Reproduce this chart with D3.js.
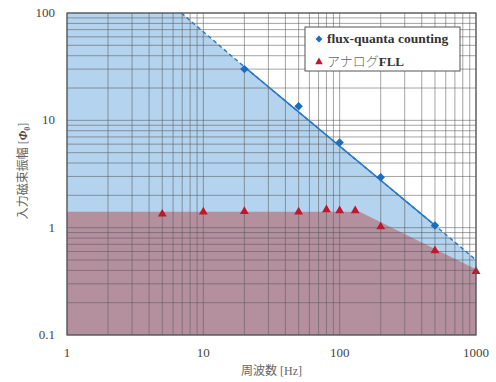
<!DOCTYPE html>
<html>
<head>
<meta charset="utf-8">
<script src="https://cdn.jsdelivr.net/npm/d3@7"></script>
<style>
  body { margin: 0; background: #fff; }
  text { font-family: "Liberation Serif", "DejaVu Serif", "Noto Sans CJK JP", serif; }
</style>
</head>
<body>
<div id="chart"></div>
<script>
// data
var fqcFreq = [20, 50, 100, 200, 500];
var fqcAmp = [30, 13.5, 6.2, 2.95, 1.05];

var fllFreq = [5, 10, 20, 50, 80, 100, 130, 200, 500, 1000];
var fllAmp = [1.34, 1.4, 1.42, 1.4, 1.47, 1.44, 1.44, 1.02, 0.61, 0.39];

// limit line for flux-quanta counting (dashed outside 20-500 Hz)
var limitFreq = [6.9, 20, 500, 1000];
var limitAmp = [100, 31.5, 1.05, 0.5];

// analog FLL region edge
var fllEdgeFreq = [1, 140, 1000];
var fllEdgeAmp = [1.41, 1.41, 0.41];

var xTicks = [1, 10, 100, 1000];
var yTicks = [0.1, 1, 10, 100];

var svgWidth = 496;
var svgHeight = 382;
var margin = { top: 13, right: 20, bottom: 47, left: 67 };
var width = svgWidth - margin.left - margin.right;
var height = svgHeight - margin.top - margin.bottom;

var svg = d3.select("#chart")
  .append("svg")
  .attr("width", svgWidth)
  .attr("height", svgHeight);

var chartGroup = svg.append("g")
  .attr("transform", `translate(${margin.left}, ${margin.top})`);

var x = d3.scaleLog().domain([1, 1000]).range([0, width]);
var y = d3.scaleLog().domain([0.1, 100]).range([height, 0]);

var line = d3.line().x(d => x(d[0])).y(d => y(d[1]));

// blue region
var blueArea = [[1, 100]];
limitFreq.forEach((f, i) => blueArea.push([f, limitAmp[i]]));
blueArea.push([1000, 0.1], [1, 0.1]);
chartGroup.append("path")
  .attr("d", line(blueArea) + "Z")
  .attr("fill", "#b3d3ee");

// red region
var redArea = fllEdgeFreq.map((f, i) => [f, fllEdgeAmp[i]]);
redArea.push([1000, 0.1], [1, 0.1]);
chartGroup.append("path")
  .attr("d", line(redArea) + "Z")
  .attr("fill", "#b4909f");

// grid
var minor = [];
for (var e = 0; e < 3; e++) {
  for (var k = 1; k < 10; k++) minor.push(k * Math.pow(10, e));
}
minor.push(1000);
var minorY = minor.map(v => v / 10);

chartGroup.append("g").selectAll("line")
  .data(minor)
  .enter()
  .append("line")
  .attr("x1", d => x(d)).attr("x2", d => x(d))
  .attr("y1", 0).attr("y2", height)
  .attr("stroke", "rgba(90,90,90,0.55)")
  .attr("stroke-width", 1);

chartGroup.append("g").selectAll("line")
  .data(minorY)
  .enter()
  .append("line")
  .attr("x1", 0).attr("x2", width)
  .attr("y1", d => y(d)).attr("y2", d => y(d))
  .attr("stroke", "rgba(90,90,90,0.55)")
  .attr("stroke-width", 1);

// limit line
var limitPts = limitFreq.map((f, i) => [f, limitAmp[i]]);
chartGroup.append("path")
  .attr("d", line(limitPts))
  .attr("fill", "none")
  .attr("stroke", "#2a78c4")
  .attr("stroke-width", 1.4)
  .attr("stroke-dasharray", "4,3");
chartGroup.append("path")
  .attr("d", line(limitPts.slice(1, 3)))
  .attr("fill", "none")
  .attr("stroke", "#2a78c4")
  .attr("stroke-width", 1.4);

// markers
chartGroup.append("g").selectAll("path")
  .data(fqcFreq)
  .enter()
  .append("path")
  .attr("d", d3.symbol().type(d3.symbolDiamond2).size(46))
  .attr("transform", (d, i) => `translate(${x(d)},${y(fqcAmp[i])})`)
  .attr("fill", "#1c6dc1");

chartGroup.append("g").selectAll("path")
  .data(fllFreq)
  .enter()
  .append("path")
  .attr("d", d3.symbol().type(d3.symbolTriangle).size(34))
  .attr("transform", (d, i) => `translate(${x(d)},${y(fllAmp[i])})`)
  .attr("fill", "#c0172c");

// border
chartGroup.append("rect")
  .attr("width", width).attr("height", height)
  .attr("fill", "none")
  .attr("stroke", "#555")
  .attr("stroke-width", 1.2);

// tick labels
chartGroup.append("g").selectAll("text")
  .data(xTicks)
  .enter()
  .append("text")
  .attr("x", d => x(d))
  .attr("y", height + 22)
  .attr("text-anchor", "middle")
  .attr("font-size", 13)
  .attr("fill", "#444")
  .text(d => d);

chartGroup.append("g").selectAll("text")
  .data(yTicks)
  .enter()
  .append("text")
  .attr("x", -12)
  .attr("y", d => y(d) + 4)
  .attr("text-anchor", "end")
  .attr("font-size", 13)
  .attr("fill", "#444")
  .text(d => d);

// axis titles
chartGroup.append("text")
  .attr("x", width / 2)
  .attr("y", height + 40)
  .attr("text-anchor", "middle")
  .attr("font-size", 12)
  .attr("fill", "#666")
  .text("周波数 [Hz]");

var yTitle = chartGroup.append("text")
  .attr("transform", "rotate(-90)")
  .attr("x", -(y(1) + y(10)) / 2 + 3)
  .attr("y", -40)
  .attr("text-anchor", "middle")
  .attr("font-size", 12)
  .attr("fill", "#666");
yTitle.append("tspan").text("入力磁束振幅 [");
yTitle.append("tspan").attr("font-weight", "bold").attr("font-style", "italic").attr("fill", "#444").text("Φ");
yTitle.append("tspan").attr("font-size", 8).attr("dy", 3).attr("font-weight", "bold").text("0");
yTitle.append("tspan").attr("dy", -3).text("]");

// legend
var legend = chartGroup.append("g")
  .attr("transform", `translate(${305 - margin.left}, ${27 - margin.top})`);
legend.append("rect")
  .attr("width", 155).attr("height", 44)
  .attr("fill", "#fff")
  .attr("stroke", "#555")
  .attr("stroke-width", 1);
legend.append("path")
  .attr("d", d3.symbol().type(d3.symbolDiamond2).size(30))
  .attr("transform", "translate(14,12)")
  .attr("fill", "#1c6dc1");
legend.append("path")
  .attr("d", d3.symbol().type(d3.symbolTriangle).size(25))
  .attr("transform", "translate(14,35)")
  .attr("fill", "#c0172c");
legend.append("text")
  .attr("x", 22).attr("y", 16)
  .attr("font-size", 13.5)
  .attr("font-weight", "bold")
  .attr("fill", "#333")
  .text("flux-quanta counting");
var fllLabel = legend.append("text")
  .attr("x", 22).attr("y", 39)
  .attr("font-size", 13)
  .attr("fill", "#333");
fllLabel.append("tspan").attr("font-family", "Noto Sans CJK JP").attr("font-weight", 300).attr("fill", "#666").text("アナログ");
fllLabel.append("tspan").attr("font-weight", "bold").text("FLL");
</script>
</body>
</html>
